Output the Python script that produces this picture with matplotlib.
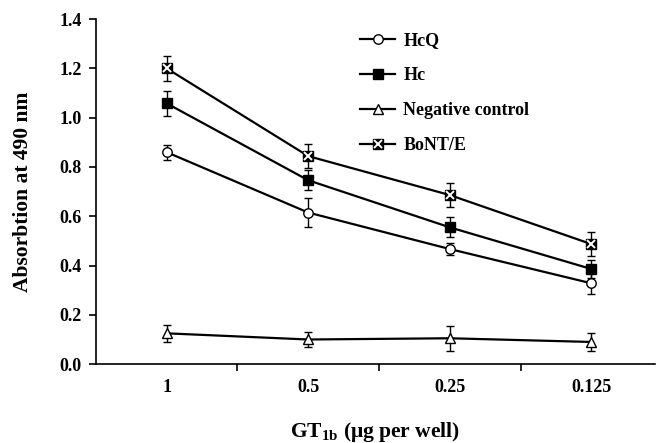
import matplotlib.pyplot as plt
from matplotlib.legend_handler import HandlerTuple
import numpy as np

# data
doses = ['1', '0.5', '0.25', '0.125']
hcq = [0.86, 0.615, 0.467, 0.328]
hcq_err = [0.03, 0.058, 0.025, 0.045]
hc = [1.058, 0.746, 0.555, 0.386]
hc_err = [0.05, 0.04, 0.04, 0.035]
neg = [0.125, 0.10, 0.105, 0.09]
neg_err = [0.035, 0.03, 0.05, 0.035]
bont = [1.20, 0.844, 0.686, 0.487]
bont_err = [0.05, 0.05, 0.05, 0.05]

plt.rcParams['font.family'] = ['Liberation Serif', 'DejaVu Serif']
plt.rcParams['font.weight'] = 'bold'
plt.rcParams['mathtext.fontset'] = 'custom'
plt.rcParams['mathtext.rm'] = 'Liberation Serif:bold'
plt.rcParams['mathtext.bf'] = 'Liberation Serif:bold'
plt.rcParams['mathtext.it'] = 'Liberation Serif:bold'

fig = plt.figure(figsize=(6.61, 4.43), dpi=100)
ax = fig.add_axes([0.145, 0.178, 0.846, 0.779])

x = np.arange(len(doses))
ekw = dict(color='black', lw=1.6, ms=6.8, capsize=3, elinewidth=1.0,
           capthick=1.0, mew=1.0)

l_hcq = ax.errorbar(x, hcq, yerr=hcq_err, marker='o', mfc='white', mec='black', **ekw)
l_hc = ax.errorbar(x, hc, yerr=hc_err, marker='s', mfc='black', mec='black', **ekw)
l_neg = ax.errorbar(x, neg, yerr=neg_err, marker='^', mfc='white', mec='black', **ekw)
l_bont = ax.errorbar(x, bont, yerr=bont_err, marker='s', mfc='black', mec='black', **ekw)
bx, = ax.plot(x, bont, ls='none', marker='x', color='white', ms=5.5, mew=1.4, zorder=5)

ax.set_xlim(-0.5, 3.45)
ax.set_ylim(0, 1.4)
ax.set_yticks(np.arange(0, 1.41, 0.2))
ax.set_yticklabels(['%.1f' % v for v in np.arange(0, 1.41, 0.2)])
ax.set_xticks([0.5, 1.5, 2.5])
ax.set_xticklabels([])
ax.set_xticks(x, minor=True)
ax.set_xticklabels(doses, minor=True)
ax.tick_params(axis='both', which='major', direction='out', length=5, width=1.2,
               labelsize=13, pad=5)
ax.tick_params(axis='x', which='minor', length=0, pad=11, labelsize=13)
for s in ['top', 'right']:
    ax.spines[s].set_visible(False)
for s in ['left', 'bottom']:
    ax.spines[s].set_linewidth(1.2)

ax.set_ylabel('Absorbtion at 490 nm', fontsize=15.5, fontweight='bold', labelpad=19)
ax.set_xlabel(r'GT$_{1b}$ (μg per well)', fontsize=15.5, fontweight='bold', labelpad=17)

ax.legend([l_hcq[0], l_hc[0], l_neg[0], (l_bont[0], bx)],
          ['HcQ', 'Hc', 'Negative control', 'BoNT/E'],
          handler_map={tuple: HandlerTuple(ndivide=1)},
          loc='upper left', bbox_to_anchor=(0.5446, 0.928), bbox_transform=fig.transFigure,
          frameon=False, fontsize=13, handlelength=1.95, labelspacing=1.0,
          handletextpad=0.45, borderpad=0, borderaxespad=0)

fig.savefig('out.png', dpi=100)
